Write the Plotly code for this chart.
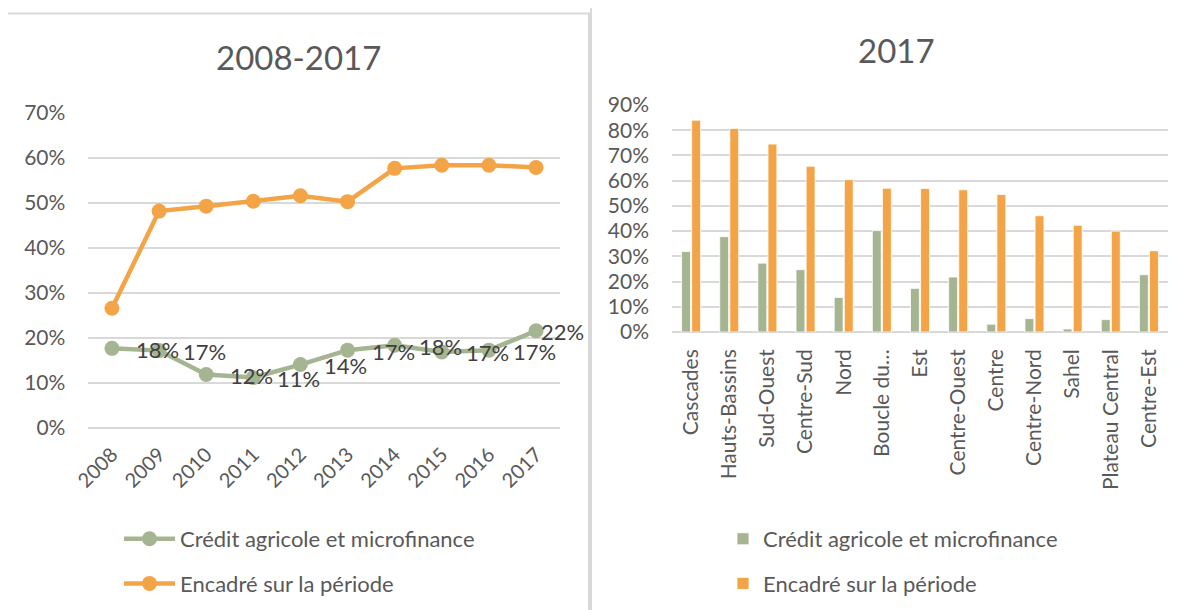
import plotly.graph_objects as go

# ---------------- data ----------------
years = ["2008", "2009", "2010", "2011", "2012", "2013", "2014", "2015", "2016", "2017"]
credit_trend = [0.177, 0.172, 0.119, 0.112, 0.141, 0.173, 0.184, 0.169, 0.173, 0.216]
encadre_trend = [0.266, 0.482, 0.493, 0.504, 0.516, 0.503, 0.577, 0.584, 0.584, 0.579]
credit_labels = ["18%", "17%", "12%", "11%", "14%", "17%", "18%", "17%", "17%", "22%"]

regions = ["Cascades", "Hauts-Bassins", "Sud-Ouest", "Centre-Sud", "Nord", "Boucle du Mouhoun",
           "Est", "Centre-Ouest", "Centre", "Centre-Nord", "Sahel", "Plateau Central", "Centre-Est"]
region_ticks = ["Cascades", "Hauts-Bassins", "Sud-Ouest", "Centre-Sud", "Nord", "Boucle du…",
                "Est", "Centre-Ouest", "Centre", "Centre-Nord", "Sahel", "Plateau Central", "Centre-Est"]
credit_2017 = [0.319, 0.378, 0.273, 0.247, 0.137, 0.402, 0.173, 0.218, 0.031, 0.053, 0.012, 0.049, 0.227]
encadre_2017 = [0.840, 0.807, 0.745, 0.657, 0.604, 0.570, 0.569, 0.564, 0.545, 0.461, 0.423, 0.400, 0.322]

y_ticks_left = [0, 0.1, 0.2, 0.3, 0.4, 0.5, 0.6, 0.7]
y_ticks_right = [0, 0.1, 0.2, 0.3, 0.4, 0.5, 0.6, 0.7, 0.8, 0.9]

name_credit = "Crédit agricole et microfinance"
name_encadre = "Encadré sur la période"

# ---------------- style ----------------
W, H = 1184, 610
OFF = 8  # page body margin compensation
GREEN = "#A5B592"
ORANGE = "#F3A447"
GRID = "#D9D9D9"
TXT = "#595959"
LBL = "#404040"
FONT = "Lato"

def px(x):
    return (x - OFF) / W

def py(y):
    return 1 - (y - OFF) / H

fig = go.Figure()

fig.add_trace(go.Scatter(
    x=years, y=credit_trend, name=name_credit, mode="lines+markers",
    line=dict(color=GREEN, width=4.5), marker=dict(size=15, color=GREEN),
    xaxis="x", yaxis="y", legend="legend", legendgroup="a", cliponaxis=False))
fig.add_trace(go.Scatter(
    x=years, y=encadre_trend, name=name_encadre, mode="lines+markers",
    line=dict(color=ORANGE, width=4.5), marker=dict(size=15, color=ORANGE),
    xaxis="x", yaxis="y", legend="legend", legendgroup="b", cliponaxis=False))

fig.add_trace(go.Bar(
    x=regions, y=credit_2017, name=name_credit, marker=dict(color=GREEN, line=dict(color="white", width=0.8)),
    xaxis="x2", yaxis="y2", legend="legend2", legendgroup="c"))
fig.add_trace(go.Bar(
    x=regions, y=encadre_2017, name=name_encadre, marker=dict(color=ORANGE, line=dict(color="white", width=0.8)),
    xaxis="x2", yaxis="y2", legend="legend2", legendgroup="d"))

tickfont = dict(family=FONT, size=21, color=TXT)

# data labels of the green series, anchored on the data points (category index on x);
# the last one is pulled back inside the chart area, as the original does
last = len(years) - 1
label_annotations = [
    dict(x=i, y=v, xref="x", yref="y", text=t, showarrow=False,
         xanchor="left", yanchor="middle", xshift=(3 if i == last else 22), yshift=-1,
         font=dict(family=FONT, size=22, color=LBL))
    for i, (v, t) in enumerate(zip(credit_trend, credit_labels))
]

fig.update_layout(
    width=W, height=H, autosize=False,
    margin=dict(l=0, r=0, t=0, b=0, pad=0, autoexpand=False),
    paper_bgcolor="white", plot_bgcolor="white",
    font=dict(family=FONT, color=TXT),
    barmode="group", bargap=0.47, bargroupgap=0.12,
    xaxis=dict(domain=[px(88.4), px(559.6)], anchor="y", type="category", range=[-0.5, 9.5],
               tickangle=-45, tickfont=dict(family=FONT, size=20, color=TXT),
               showgrid=False, showline=False, ticks="", ticklabelstandoff=10, automargin=False),
    yaxis=dict(domain=[py(428), py(113)], anchor="x", range=[0, 0.7],
               tickvals=y_ticks_left, tickformat=".0%", tickfont=tickfont,
               showgrid=True, gridcolor=GRID, gridwidth=1.5,
               zeroline=True, zerolinecolor=GRID, zerolinewidth=1.5,
               showline=False, ticks="", ticklabelstandoff=22, automargin=False),
    xaxis2=dict(domain=[px(672), px(1168)], anchor="y2", type="category",
                tickvals=regions, ticktext=region_ticks,
                tickangle=-90, tickfont=tickfont,
                showgrid=False, showline=False, ticks="", ticklabelstandoff=12, automargin=False),
    yaxis2=dict(domain=[py(332), py(105)], anchor="x2", range=[0, 0.9],
                tickvals=y_ticks_right, tickformat=".0%", tickfont=tickfont,
                showgrid=True, gridcolor=GRID, gridwidth=1.5,
                zeroline=True, zerolinecolor=GRID, zerolinewidth=1.5,
                showline=False, ticks="", ticklabelstandoff=22, automargin=False),
    legend=dict(x=px(119), y=py(518), xanchor="left", yanchor="top", itemwidth=51,
                font=dict(family=FONT, size=22, color=TXT),
                traceorder="grouped", tracegroupgap=13, bgcolor="rgba(0,0,0,0)"),
    legend2=dict(x=px(723), y=py(518), xanchor="left", yanchor="top",
                 font=dict(family=FONT, size=22, color=TXT),
                 traceorder="grouped", tracegroupgap=13, bgcolor="rgba(0,0,0,0)"),
    shapes=[
        dict(type="rect", xref="paper", yref="paper",
             x0=px(7), x1=px(589), y0=-0.05, y1=py(13.5),
             line=dict(color=GRID, width=2), fillcolor="rgba(0,0,0,0)", layer="below"),
        dict(type="rect", xref="paper", yref="paper",
             x0=px(591), x1=px(1200), y0=-0.05, y1=py(5.5),
             line=dict(color=GRID, width=2), fillcolor="rgba(0,0,0,0)", layer="below"),
    ],
    annotations=[
        dict(text="2008-2017", x=px(298), y=py(57), xref="paper", yref="paper",
             xanchor="center", yanchor="middle", showarrow=False,
             font=dict(family=FONT, size=33, color=TXT)),
        dict(text="2017", x=px(896), y=py(50), xref="paper", yref="paper",
             xanchor="center", yanchor="middle", showarrow=False,
             font=dict(family=FONT, size=33, color=TXT)),
    ] + label_annotations,
)

fig.write_html("out.html")
